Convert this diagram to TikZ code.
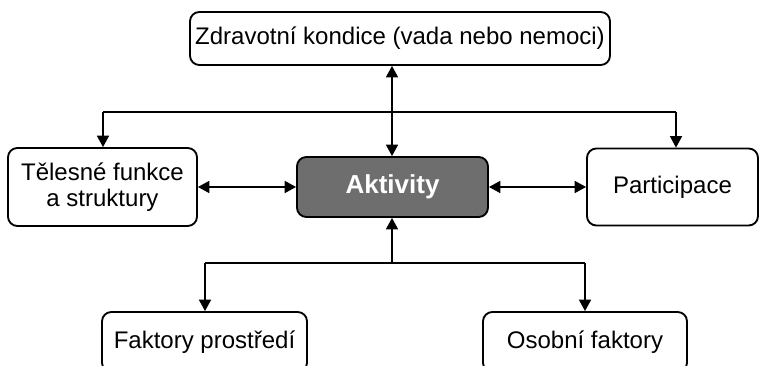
\documentclass[tikz,border=0pt]{standalone}
\usepackage{fontspec}
\setmainfont{Liberation Sans}
\usetikzlibrary{arrows.meta}

\begin{document}
\begin{tikzpicture}[x=0.75pt, y=-0.75pt,
    box/.style={draw, line width=1.4pt, rounded corners=7pt, fill=white,
                inner sep=0pt, align=center, font=\fontsize{18}{19.5}\selectfont},
    mainbox/.style={box, fill=black!57, text=white, font=\fontsize{19.5}{21}\selectfont\bfseries},
    wire/.style={line width=1pt},
    link/.style={wire, -{Triangle[length=8.5pt, width=9pt]}},
    both/.style={wire, {Triangle[length=8.5pt, width=9pt]}-{Triangle[length=8.5pt, width=9pt]}}]
  \def\Ymid{187};
  \def\Ytop{112};
  \def\Ybot{263};

  \useasboundingbox (0,0) rectangle (760,366);

	% boxes
	\node[box, minimum width=315pt, minimum height=39.75pt] (zdrav) at (400, 38.5) {Zdravotní kondice (vada nebo nemoci)};
	\node[box, minimum width=141.75pt, minimum height=58.5pt] (telo) at (102.5, \Ymid) {Tělesné funkce\\a struktury};
	\node[mainbox, minimum width=143.25pt, minimum height=45pt] (akt) at (392.5, \Ymid) {Aktivity};
	\node[box, minimum width=128.25pt, minimum height=57.75pt] (part) at (672.5, \Ymid) {Participace};
	\node[box, minimum width=153.75pt, minimum height=45pt] (fakt) at (204.5, 342) {Faktory prostředí};
	\node[box, minimum width=153pt, minimum height=45pt] (osob) at (585, 342) {Osobní faktory};

	% branch points
	\coordinate (topfork) at (392, \Ytop);
	\coordinate (telofork) at (103, \Ytop);
	\coordinate (partfork) at (676, \Ytop);
	\coordinate (botfork) at (392, \Ybot);
	\coordinate (faktfork) at (205, \Ybot);
	\coordinate (osobfork) at (585, \Ybot);

	% arrows up and down
	\draw [both] (akt.north -| topfork) -- (zdrav.south -| topfork);
	\draw [wire] (telofork) -- (partfork);
	\draw [link] (telofork) -- (telofork |- telo.north);
	\draw [link] (partfork) -- (partfork |- part.north);
	\draw [link] (botfork) -- (akt.south -| botfork);
	\draw [wire] (faktfork) -- (osobfork);
	\draw [link] (faktfork) -- (faktfork |- fakt.north);
	\draw [link] (osobfork) -- (osobfork |- osob.north);

	% arrows left and right
	\draw [both] (telo.east) -- (akt.west);
	\draw [both] (akt.east) -- (part.west);

\end{tikzpicture}
\end{document}
